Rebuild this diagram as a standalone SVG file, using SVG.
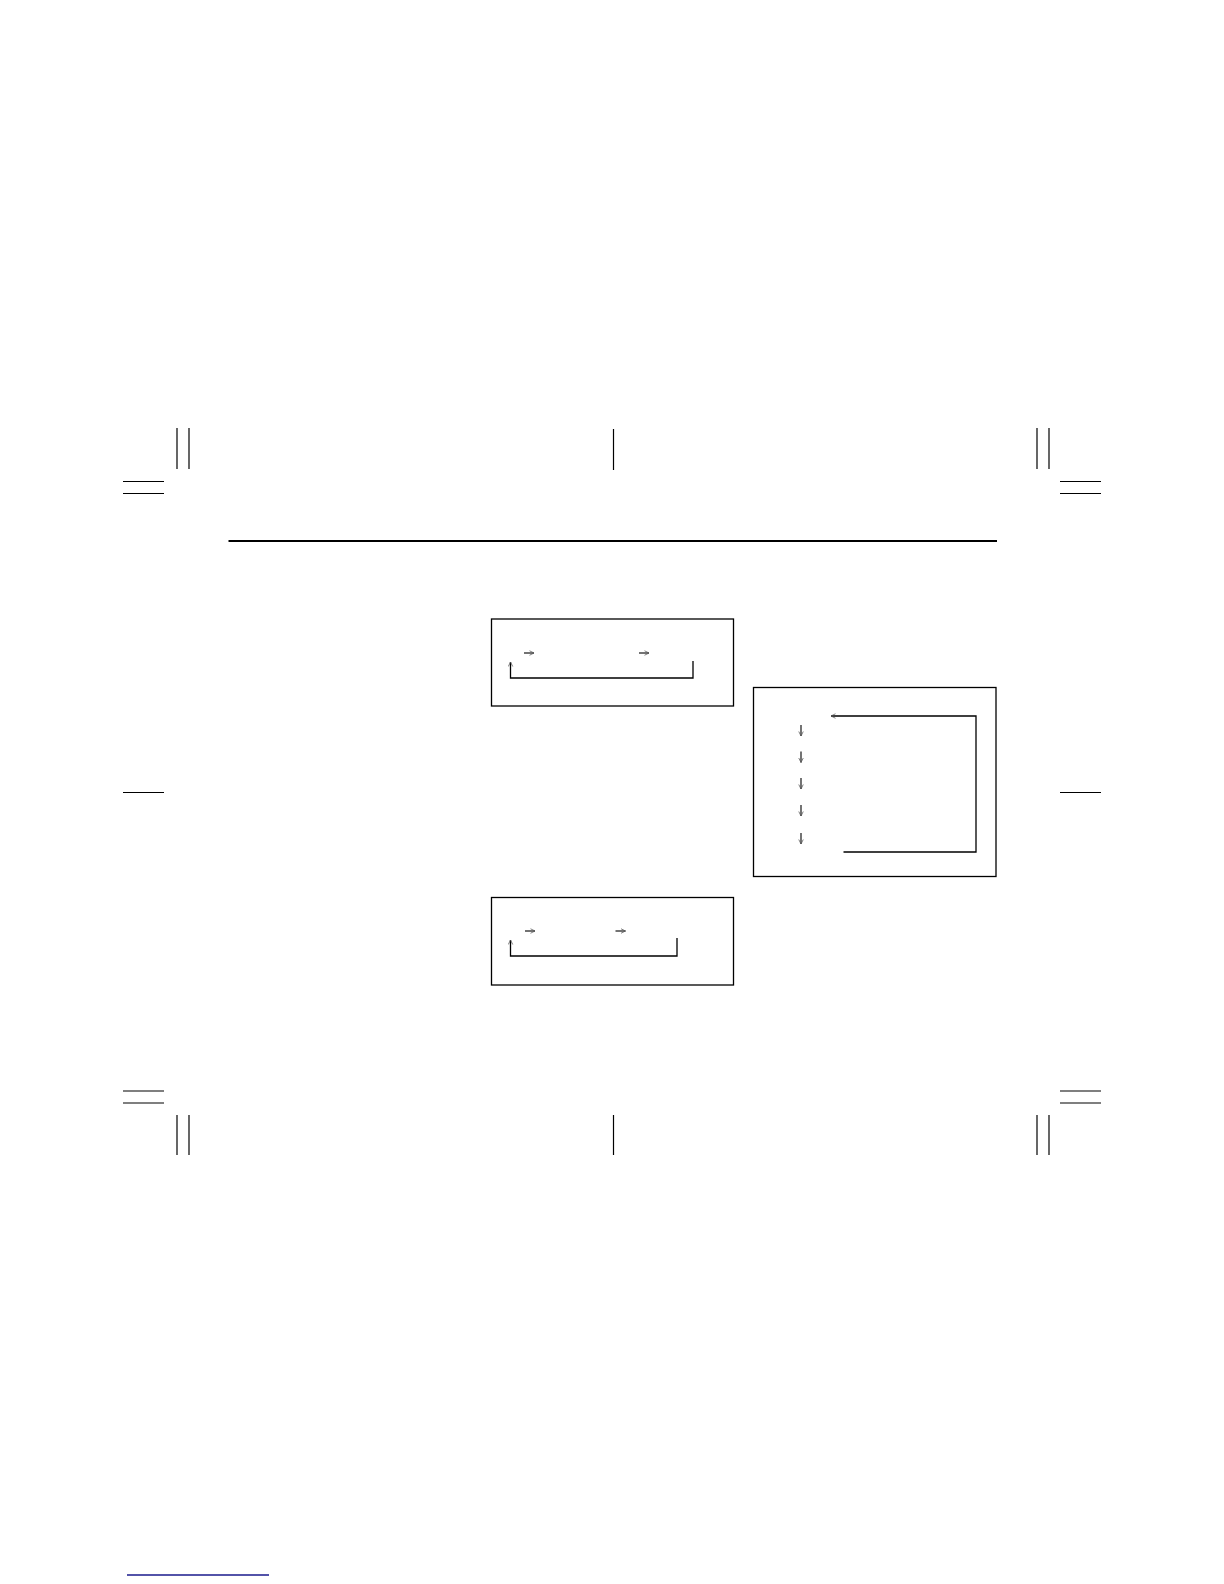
<svg xmlns="http://www.w3.org/2000/svg" width="1224" height="1584" viewBox="0 0 1224 1584">
<style>
.crop{stroke:#000;stroke-width:1.2;fill:none}
.box{stroke:#000;stroke-width:1.3;fill:#fff}
.conn{stroke:#000;stroke-width:1.3;fill:none}
.ar{stroke:#000;stroke-width:1.1;fill:none}
</style>
<defs>
<marker id="ah" viewBox="0 0 8 8" refX="7" refY="4" markerWidth="6" markerHeight="6" markerUnits="userSpaceOnUse" orient="auto">
<path d="M1,1 L7,4 L1,7" fill="none" stroke="#555" stroke-width="1"/>
</marker>
</defs>
<rect width="1224" height="1584" fill="#fff"/>
<g id="cropmarks">
<line class="crop" x1="177" y1="428" x2="177" y2="469"/>
<line class="crop" x1="189" y1="428" x2="189" y2="469"/>
<line class="crop" x1="123" y1="481.5" x2="164" y2="481.5"/>
<line class="crop" x1="123" y1="493.5" x2="164" y2="493.5"/>
<line class="crop" x1="1037" y1="428" x2="1037" y2="469"/>
<line class="crop" x1="1049" y1="428" x2="1049" y2="469"/>
<line class="crop" x1="1060" y1="481.5" x2="1101" y2="481.5"/>
<line class="crop" x1="1060" y1="493.5" x2="1101" y2="493.5"/>
<line class="crop" x1="613.5" y1="429" x2="613.5" y2="470"/>
<line class="crop" x1="123" y1="792.5" x2="164" y2="792.5"/>
<line class="crop" x1="1060" y1="792.5" x2="1101" y2="792.5"/>
<line class="crop" x1="123" y1="1091" x2="164" y2="1091"/>
<line class="crop" x1="123" y1="1103" x2="164" y2="1103"/>
<line class="crop" x1="177" y1="1115" x2="177" y2="1155"/>
<line class="crop" x1="189" y1="1115" x2="189" y2="1155"/>
<line class="crop" x1="1060" y1="1091" x2="1101" y2="1091"/>
<line class="crop" x1="1060" y1="1103" x2="1101" y2="1103"/>
<line class="crop" x1="1037" y1="1115" x2="1037" y2="1155"/>
<line class="crop" x1="1049" y1="1115" x2="1049" y2="1155"/>
<line class="crop" x1="613.5" y1="1115" x2="613.5" y2="1155"/>
</g>
<line id="rule" x1="228.5" y1="541" x2="997" y2="541" stroke="#000" stroke-width="2"/>
<line id="footer" x1="127" y1="1575" x2="269" y2="1575" stroke="#1a1a8c" stroke-width="1.5"/>
<g id="boxA"><rect class="box" x="491.5" y="619" width="242" height="87"/></g>
<g id="boxB"><rect class="box" x="491.5" y="897.5" width="242" height="87.5"/></g>
<g id="boxC"><rect class="box" x="753.5" y="687.5" width="242.5" height="189"/></g>
<g id="connectors">
<line class="ar" x1="524" y1="653" x2="534" y2="653" marker-end="url(#ah)"/>
<line class="ar" x1="639" y1="653" x2="649" y2="653" marker-end="url(#ah)"/>
<path class="conn" d="M693,661 V678 H510.5 V662" marker-end="url(#ah)"/>
<line class="ar" x1="525" y1="931" x2="535" y2="931" marker-end="url(#ah)"/>
<line class="ar" x1="615.5" y1="931" x2="625.5" y2="931" marker-end="url(#ah)"/>
<path class="conn" d="M677,938 V956 H510.5 V940" marker-end="url(#ah)"/>
<path class="conn" d="M843.5,852 H976 V716 H831" marker-end="url(#ah)"/>
<line class="ar" x1="801" y1="725" x2="801" y2="736" marker-end="url(#ah)"/>
<line class="ar" x1="801" y1="751.5" x2="801" y2="762.5" marker-end="url(#ah)"/>
<line class="ar" x1="801" y1="778" x2="801" y2="789" marker-end="url(#ah)"/>
<line class="ar" x1="801" y1="805" x2="801" y2="816" marker-end="url(#ah)"/>
<line class="ar" x1="801" y1="833" x2="801" y2="844" marker-end="url(#ah)"/>
</g>
</svg>
